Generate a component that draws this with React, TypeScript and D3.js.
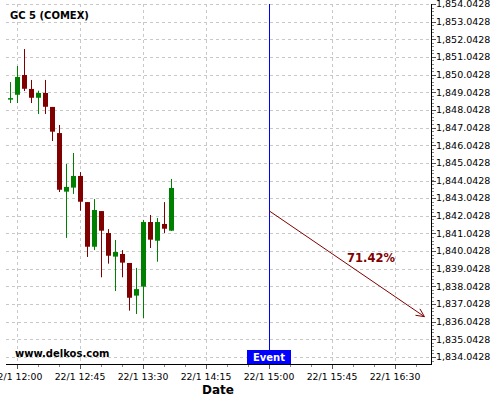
import React from "react";
import * as d3 from "d3";

const times = ["11:55","12:00","12:05","12:10","12:15","12:20","12:25","12:30","12:35","12:40","12:45","12:50","12:55","13:00","13:05","13:10","13:15","13:20","13:25","13:30","13:35","13:40","13:45","13:50"];
const opens = [1848.63,1848.90,1850.02,1849.23,1848.73,1849.00,1848.21,1846.73,1843.41,1843.64,1844.30,1842.82,1840.29,1842.31,1841.07,1839.73,1839.88,1839.37,1837.52,1838.03,1841.69,1840.63,1841.58,1841.20];
const highs = [1849.62,1850.53,1851.49,1849.74,1849.13,1849.74,1848.21,1847.19,1844.98,1845.60,1844.52,1842.82,1842.99,1842.31,1841.29,1840.67,1840.10,1839.37,1839.09,1841.81,1842.09,1841.92,1842.82,1844.13];
const lows = [1848.43,1848.43,1849.11,1848.43,1847.81,1847.81,1846.28,1843.39,1840.79,1843.28,1842.33,1839.71,1840.10,1838.56,1839.33,1837.78,1838.56,1836.67,1836.48,1836.25,1840.22,1839.44,1841.07,1841.18];
const closes = [1848.71,1849.91,1849.24,1848.73,1849.00,1848.22,1846.81,1843.52,1843.68,1844.30,1842.84,1840.29,1842.37,1841.20,1839.78,1839.99,1839.39,1837.40,1837.89,1841.69,1840.69,1841.69,1841.31,1843.62];

const xTickLabels = ["12:00","12:45","13:30","14:15","15:00","15:45","16:30"];
const yTicks = d3.range(0, 21).map((i) => 1834.0428 + i);

const eventTime = "15:00";
const arrowStart = { time: "15:00", price: 1842.33 };
const arrowEnd = { time: "16:51", price: 1836.33 };
const probLabel = "71.42%";
const title = "GC 5 (COMEX)";
const watermark = "www.delkos.com";
const xTitle = "Date";

const toDate = (hm: string) => {
  const [h, m] = hm.split(":").map(Number);
  return new Date(2021, 0, 22, h, m);
};

export default function App() {
  const W = 500, H = 400;
  const left = 6, right = 431, top = 4, bottom = 364;
  const x = d3.scaleTime().domain([toDate("12:00"), toDate("16:30")]).range([17, 395]);
  const y = d3.scaleLinear().domain([1834.0428, 1854.0428]).range([357, 4]);
  const fmtY = d3.format(",.4f");
  const green = "#008000", red = "#800000";
  const font = "DejaVu Sans, sans-serif";

  const minorX = d3.timeMinute.every(15)!.range(toDate("11:55"), toDate("16:56"));
  const minorY = d3.range(0, 102).map((i) => 1833.6428 + i * 0.2).filter((v) => y(v) >= top && y(v) <= bottom);

  const ex = x(toDate(eventTime));
  const ax1 = x(toDate(arrowStart.time)), ay1 = y(arrowStart.price);
  const ax2 = x(toDate(arrowEnd.time)), ay2 = y(arrowEnd.price);
  const ang = Math.atan2(ay2 - ay1, ax2 - ax1);
  const hl = 9, ha = 0.45;

  return (
    <svg width={W} height={H} style={{ position: "absolute", left: 0, top: 0, background: "#fff" }} fontFamily={font}>
      <rect width={W} height={H} fill="#fff" />
      {/* grid */}
      {yTicks.map((v, i) => (
        <line key={"gy" + i} x1={left} x2={right} y1={Math.round(y(v)) + 0.5} y2={Math.round(y(v)) + 0.5} stroke="#c8c8c8" strokeDasharray="3,3" />
      ))}
      {xTickLabels.map((t, i) => (
        <line key={"gx" + i} x1={Math.round(x(toDate(t))) + 0.5} x2={Math.round(x(toDate(t))) + 0.5} y1={top} y2={bottom} stroke="#c8c8c8" strokeDasharray="3,3" />
      ))}
      {/* candles */}
      {times.map((t, i) => {
        const cx = Math.round(x(toDate(t)));
        const up = closes[i] >= opens[i];
        const col = up ? green : red;
        const yTop = y(Math.max(opens[i], closes[i]));
        const yBot = y(Math.min(opens[i], closes[i]));
        return (
          <g key={"c" + i}>
            <line x1={cx + 0.5} x2={cx + 0.5} y1={y(highs[i])} y2={y(lows[i])} stroke={col} strokeWidth={1} />
            <rect x={cx - 2} y={yTop} width={5} height={Math.max(1.5, yBot - yTop)} fill={col} />
          </g>
        );
      })}
      {/* event line */}
      <line x1={Math.round(ex) + 0.5} x2={Math.round(ex) + 0.5} y1={top} y2={bottom} stroke="#0000ff" strokeWidth={1} />
      {/* arrow */}
      <line x1={ax1} y1={ay1} x2={ax2} y2={ay2} stroke={red} strokeWidth={1} />
      <line x1={ax2} y1={ay2} x2={ax2 - hl * Math.cos(ang - ha)} y2={ay2 - hl * Math.sin(ang - ha)} stroke={red} strokeWidth={1} />
      <line x1={ax2} y1={ay2} x2={ax2 - hl * Math.cos(ang + ha)} y2={ay2 - hl * Math.sin(ang + ha)} stroke={red} strokeWidth={1} />
      <text x={371} y={262} textAnchor="middle" fontSize={11.5} fontWeight="bold" fill={red}>{probLabel}</text>
      {/* event label */}
      <rect x={ex - 22} y={350} width={44} height={14} fill="#0000ff" />
      <text x={ex} y={361} textAnchor="middle" fontSize={10} fontWeight="bold" fill="#fff">Event</text>
      {/* axes */}
      <line x1={left} x2={right} y1={bottom + 0.5} y2={bottom + 0.5} stroke="#000" />
      <line x1={right + 0.5} x2={right + 0.5} y1={top} y2={bottom + 1} stroke="#000" />
      {minorX.map((d, i) => (
        <line key={"mx" + i} x1={Math.round(x(d)) + 0.5} x2={Math.round(x(d)) + 0.5} y1={bottom + 1} y2={bottom + 3} stroke="#888" />
      ))}
      {xTickLabels.map((t, i) => (
        <g key={"xl" + i}>
          <line x1={Math.round(x(toDate(t))) + 0.5} x2={Math.round(x(toDate(t))) + 0.5} y1={bottom + 1} y2={bottom + 5} stroke="#555" />
          <text x={x(toDate(t))} y={380} textAnchor="middle" fontSize={9.3} fill="#000">{"22/1 " + t}</text>
        </g>
      ))}
      {minorY.map((v, i) => (
        <line key={"my" + i} x1={right + 1} x2={right + 3} y1={Math.round(y(v)) + 0.5} y2={Math.round(y(v)) + 0.5} stroke="#888" />
      ))}
      {yTicks.map((v, i) => (
        <g key={"yl" + i}>
          <line x1={right + 1} x2={right + 5} y1={Math.round(y(v)) + 0.5} y2={Math.round(y(v)) + 0.5} stroke="#555" />
          <text x={436} y={y(v)} dy="0.35em" fontSize={9.5} fill="#000">{fmtY(v)}</text>
        </g>
      ))}
      <text x={218} y={394} textAnchor="middle" fontSize={12} fontWeight="bold" fill="#000">{xTitle}</text>
      <text x={10} y={19} fontSize={10} fontWeight="bold" fill="#000">{title}</text>
      <text x={15} y={357} fontSize={10} fontWeight="bold" fill="#000">{watermark}</text>
    </svg>
  );
}
